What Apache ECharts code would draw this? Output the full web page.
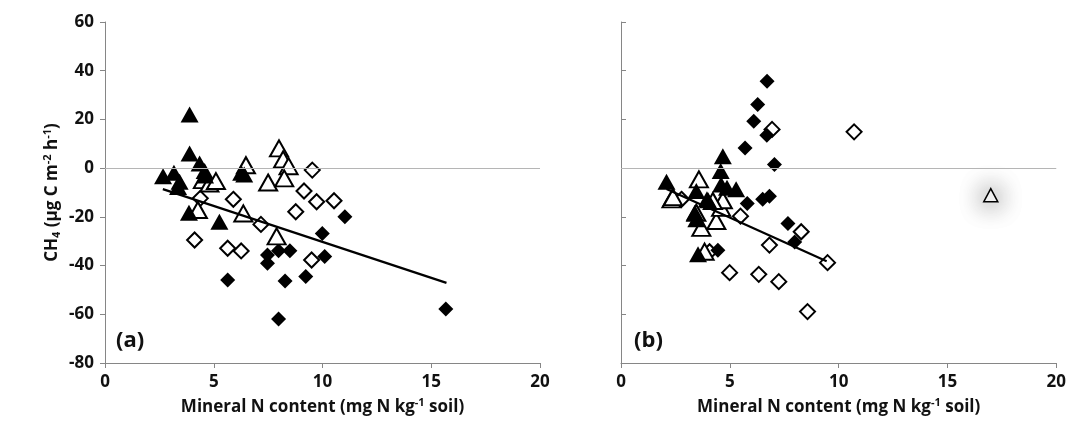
<!DOCTYPE html>
<html><head><meta charset="utf-8">
<script src="https://cdn.jsdelivr.net/npm/echarts@6/dist/echarts.min.js"></script>
<style>html,body{margin:0;padding:0;background:#fff}#c{width:1069px;height:432px}</style>
</head><body><div id="c"></div>
<script>
// ---------- data ----------
const xTicks = [0, 5, 10, 15, 20];
const yTicks = [-80, -60, -40, -20, 0, 20, 40, 60];
const panelLabels = ['(a)', '(b)'];

// Panel (a)
const aFilledTri = [[2.67,-3.3],[3.17,-1.9],[3.43,-5.6],[3.36,-7.7],[3.89,22.0],[3.89,6.0],[4.35,1.9],[4.58,-1.2],[4.6,-3.0],[3.86,-18.3],[5.26,-22.0],[6.26,-1.9],[6.4,-2.6]];
const aOpenTri = [[4.5,-4.9],[4.8,-6.3],[5.1,-5.3],[4.27,-17.2],[6.48,1.2],[7.5,-5.9],[6.36,-18.6],[7.89,-28.0],[8.0,8.1],[8.19,3.6],[8.44,0.8],[8.24,-4.2]];
const aOpenDia = [[4.38,-12.4],[5.9,-12.8],[4.12,-29.5],[5.64,-32.9],[6.26,-34.0],[7.17,-23.1],[9.53,-0.8],[9.15,-9.4],[9.73,-13.8],[10.53,-13.4],[8.77,-17.9],[9.5,-37.7]];
const aFilledDia = [[5.64,-45.9],[7.47,-35.7],[7.47,-39.0],[7.98,-33.9],[8.5,-33.9],[8.28,-46.3],[9.23,-44.5],[7.98,-61.9],[10.1,-36.3],[9.99,-26.8],[11.03,-20.0],[15.67,-57.8]];
const aTrend = [[2.66,-8.6],[15.7,-47.1]];

// Panel (b)
const bFilledTri = [[2.09,-5.6],[4.68,4.9],[4.58,-1.2],[3.46,-9.4],[4.0,-13.2],[3.95,-12.8],[4.6,-6.7],[4.87,-8.1],[5.29,-8.7],[3.46,-21.0],[3.39,-18.3],[3.54,-35.4]];
const bOpenTri = [[3.58,-4.6],[2.32,-12.8],[2.39,-11.9],[3.46,-18.3],[3.69,-24.5],[4.38,-21.7],[4.6,-16.3],[4.68,-13.2],[4.22,-13.5],[3.84,-34.3]];
const bOutlierTri = [[16.99,-11.1]];
const bOpenDia = [[2.78,-12.8],[4.07,-34.3],[6.94,15.9],[10.71,14.9],[5.49,-19.7],[8.28,-26.1],[6.82,-31.6],[9.49,-38.8],[4.99,-42.9],[6.33,-43.6],[7.25,-46.6],[8.57,-58.9]];
const bFilledDia = [[6.71,35.7],[6.28,26.1],[6.1,19.3],[6.7,13.5],[5.7,8.3],[7.05,1.5],[5.8,-14.5],[6.51,-12.8],[6.82,-11.5],[7.67,-22.7],[7.98,-30.3],[4.45,-33.7]];
const bTrend = [[2.09,-8.6],[9.45,-38.2]];

// ---------- chart ----------
const FONT = '"Open Sans", "Liberation Sans", sans-serif';
const AX = '#868686';
const TXT = '#111';
const chart = echarts.init(document.getElementById('c'), null, {renderer: 'canvas'});

function xAx(gi) {
  return {
    gridIndex: gi, type: 'value', min: xTicks[0], max: xTicks[xTicks.length-1], interval: 5,
    axisLine: {onZero: false, lineStyle: {color: AX, width: 1}},
    axisTick: {show: true, length: 5, lineStyle: {color: AX}},
    splitLine: {show: false},
    axisLabel: {fontFamily: FONT, fontWeight: 'bold', fontSize: 17, color: TXT, margin: 11},
    name: '{t|Mineral N content (mg N kg}{s|-1}{t| soil)}',
    nameLocation: 'middle', nameGap: 33,
    nameTextStyle: {rich: {
      t: {fontFamily: FONT, fontWeight: 'bold', fontSize: 17, color: TXT, lineHeight: 22},
      s: {fontFamily: FONT, fontWeight: 'bold', fontSize: 11, color: TXT, lineHeight: 22, padding: [0,0,8,0]}
    }}
  };
}
function yAx(gi, showLabels) {
  const o = {
    gridIndex: gi, type: 'value', min: yTicks[0], max: yTicks[yTicks.length-1], interval: 20,
    axisLine: {show: true, lineStyle: {color: AX, width: 1}},
    axisTick: {show: true, length: 5, inside: !showLabels, lineStyle: {color: AX}},
    splitLine: {show: false},
    axisLabel: {show: showLabels, fontFamily: FONT, fontWeight: 'bold', fontSize: 17, color: TXT, margin: 11}
  };
  if (showLabels) {
    o.name = '{t|CH}{b|4}{t| (µg C m}{s|-2}{t| h}{s|-1}{t|)}';
    o.nameLocation = 'middle';
    o.nameGap = 42;
    o.nameRotate = 90;
    o.nameTextStyle = {rich: {
      t: {fontFamily: FONT, fontWeight: 'bold', fontSize: 17, color: TXT, lineHeight: 22},
      b: {fontFamily: FONT, fontWeight: 'bold', fontSize: 11, color: TXT, lineHeight: 22, padding: [10,0,0,0]},
      s: {fontFamily: FONT, fontWeight: 'bold', fontSize: 11, color: TXT, lineHeight: 22, padding: [0,0,8,0]}
    }};
  }
  return o;
}

const filled = {color: '#000', borderColor: '#000', borderWidth: 0, opacity: 1};
const open = {color: '#fff', borderColor: '#000', borderWidth: 2, opacity: 1};
const TRI = [18, 16];
const DIA = [15, 15];

function scatter(gi, data, sym, size, style, z) {
  return {type: 'scatter', xAxisIndex: gi, yAxisIndex: gi, data: data, symbol: sym, symbolSize: size,
          itemStyle: style, z: z || 3, silent: true, animation: false};
}
function zeroLine(gi) {
  return {type: 'line', xAxisIndex: gi, yAxisIndex: gi, data: [], silent: true, z: 1,
          markLine: {silent: true, symbol: ['none','none'], label: {show: false},
                     lineStyle: {color: '#b5b5b5', width: 1, type: 'solid'},
                     data: [{yAxis: 0}], animation: false}};
}
function trend(gi, data) {
  return {type: 'line', xAxisIndex: gi, yAxisIndex: gi, data: data, showSymbol: false, symbol: 'none',
          lineStyle: {color: '#000', width: 2.2}, z: 5, silent: true, animation: false};
}

const option = {
  animation: false,
  backgroundColor: '#fff',
  grid: [
    {left: 105, right: 529, top: 22, bottom: 69},
    {left: 621, right: 12, top: 22, bottom: 69}
  ],
  xAxis: [xAx(0), xAx(1)],
  yAxis: [yAx(0, true), yAx(1, false)],
  graphic: [
    {type: 'text', left: 116, top: 330, style: {text: panelLabels[0], font: 'bold 22px ' + FONT, fill: TXT}},
    {type: 'text', left: 634, top: 330, style: {text: panelLabels[1], font: 'bold 22px ' + FONT, fill: TXT}}
  ],
  series: [
    zeroLine(0), zeroLine(1),
    scatter(0, aOpenDia, 'diamond', DIA, open, 3),
    scatter(0, aFilledDia, 'diamond', DIA, filled, 3),
    scatter(0, aOpenTri, 'triangle', TRI, open, 4),
    scatter(0, aFilledTri, 'triangle', TRI, filled, 4),
    trend(0, aTrend),
    scatter(1, bOpenDia, 'diamond', DIA, open, 3),
    scatter(1, bFilledDia, 'diamond', DIA, filled, 3),
    scatter(1, bOpenTri, 'triangle', TRI, open, 4),
    scatter(1, bFilledTri, 'triangle', TRI, filled, 4),
    scatter(1, bOutlierTri, 'triangle', [14, 13], {color: '#fff', borderColor: '#000', borderWidth: 1.5, opacity: 1, shadowBlur: 24, shadowColor: 'rgba(0,0,0,0.9)'}, 4),
    trend(1, bTrend)
  ]
};
chart.setOption(option);
</script></body></html>
